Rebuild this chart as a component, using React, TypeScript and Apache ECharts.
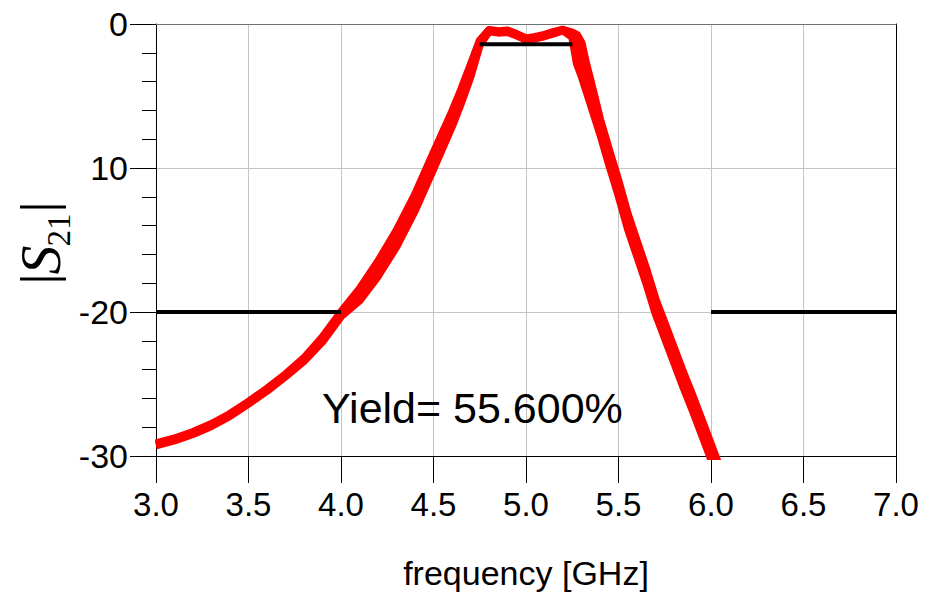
import React, { useEffect, useRef } from "react";
import * as echarts from "echarts";

// Frequency points (GHz) of the Monte-Carlo |S21| traces
const freqs = [3.0, 3.1, 3.2, 3.3, 3.4, 3.5, 3.6, 3.7, 3.8, 3.9, 4.0, 4.1, 4.2, 4.3, 4.4, 4.5, 4.6, 4.65, 4.7, 4.75, 4.8, 4.85, 4.9, 4.95, 5.0, 5.05, 5.1, 5.15, 5.2, 5.25, 5.275, 5.3, 5.325, 5.35, 5.4, 5.45, 5.5, 5.55, 5.6, 5.65, 5.7, 5.75, 5.8, 5.85, 5.9, 5.95, 6.0, 6.05];

// Three traces forming the red band (dB)
const traceLow = [-29.27, -28.92, -28.47, -27.92, -27.22, -26.37, -25.47, -24.47, -23.4, -22.05, -20.3, -19.2, -17.5, -15.45, -12.95, -10.05, -7.1, -5.45, -3.65, -1.45, -0.5, -0.6, -0.55, -0.8, -1.08, -1.0, -0.85, -0.65, -0.45, -0.9, -2.75, -3.6, -4.6, -5.6, -7.6, -9.8, -11.9, -14.2, -16.1, -18.0, -20.1, -21.8, -23.5, -25.2, -26.8, -28.5, -30.2, -31.9];
const traceMid = [-29.2, -28.85, -28.4, -27.85, -27.15, -26.3, -25.4, -24.4, -23.3, -21.9, -20.15, -18.8, -17.0, -14.9, -12.4, -9.5, -6.6, -5.0, -3.25, -1.3, -0.45, -0.55, -0.5, -0.75, -1.04, -0.95, -0.8, -0.6, -0.42, -0.7, -1.6, -2.7, -3.7, -4.8, -7.1, -9.3, -11.4, -13.7, -15.6, -17.5, -19.6, -21.3, -23.0, -24.7, -26.3, -28.0, -29.7, -31.4];
const traceHigh = [-29.13, -28.78, -28.33, -27.78, -27.08, -26.23, -25.33, -24.33, -23.2, -21.75, -20.0, -18.4, -16.5, -14.35, -11.85, -8.95, -6.1, -4.55, -2.85, -1.15, -0.42, -0.5, -0.45, -0.7, -1.0, -0.9, -0.75, -0.55, -0.4, -0.6, -0.75, -1.3, -2.75, -4.0, -6.6, -8.8, -10.9, -13.2, -15.1, -17.0, -19.1, -20.8, -22.5, -24.2, -25.8, -27.5, -29.2, -30.9];

// Specification masks: start / end frequency and level (dB)
const specStart = [3.0, 4.75, 6.0];
const specEnd = [4.0, 5.25, 7.0];
const specLevel = [-20, -1.4, -20];

// Axis ticks
const yTickValues = [-30, -20, -10, 0];
const yTickLabels = ["-30", "-20", "10", "0"];

const xAxisTitle = "frequency [GHz]";
const yieldText = "Yield= 55.600%";

const SANS = "'Liberation Sans', Arial, sans-serif";
const SERIF = "'Liberation Serif', 'Times New Roman', serif";

export default function App() {
  const ref = useRef<HTMLDivElement>(null);

  useEffect(() => {
    const chart = echarts.init(ref.current!, null, { renderer: "svg" });

    const traces = [traceLow, traceMid, traceHigh];
    const redSeries = traces.map((vals, k) => ({
      type: "line",
      name: "trace" + k,
      data: freqs.map((f, i) => [f, vals[i]]),
      showSymbol: false,
      symbol: "none",
      clip: true,
      z: 3,
      lineStyle: { color: "#ff0000", width: 8, join: "round", cap: "butt" },
    }));
    const specSeries = specStart.map((s, i) => ({
      type: "line",
      name: "spec" + i,
      data: [
        [s, specLevel[i]],
        [specEnd[i], specLevel[i]],
      ],
      showSymbol: false,
      symbol: "none",
      z: 4,
      lineStyle: { color: "#000", width: 4, cap: "butt" },
    }));

    const option: any = {
      animation: false,
      backgroundColor: "#ffffff",
      grid: { left: 156, top: 24, right: 33, bottom: 139, show: false },
      xAxis: [
        {
          type: "value",
          min: 3,
          max: 7,
          interval: 0.5,
          axisLine: { show: true, onZero: false, lineStyle: { color: "#000", width: 1 } },
          axisTick: { show: true, length: 27, lineStyle: { color: "#000", width: 1 } },
          axisLabel: {
            fontSize: 33,
            fontFamily: SANS,
            color: "#000",
            margin: 32,
            formatter: (v: number) => v.toFixed(1),
          },
          splitLine: { show: true, lineStyle: { color: "#c4c4c4", width: 1 } },
          name: xAxisTitle,
          nameLocation: "middle",
          nameGap: 100,
          nameTextStyle: { fontSize: 34, fontFamily: SANS, color: "#000" },
        },
        {
          type: "value",
          position: "top",
          min: 3,
          max: 7,
          axisLine: { show: true, onZero: false, lineStyle: { color: "#707070", width: 1 } },
          axisTick: { show: false },
          axisLabel: { show: false },
          splitLine: { show: false },
        },
      ],
      yAxis: [
        {
          type: "value",
          min: -30,
          max: 0,
          interval: 10,
          axisLine: { show: true, onZero: false, lineStyle: { color: "#000", width: 1 } },
          axisTick: { show: true, length: 26, lineStyle: { color: "#000", width: 1 } },
          minorTick: { show: true, splitNumber: 5, length: 14, lineStyle: { color: "#000", width: 1 } },
          axisLabel: {
            fontSize: 34,
            fontFamily: SANS,
            color: "#000",
            margin: 28,
            formatter: (v: number) => {
              const i = yTickValues.indexOf(Math.round(v));
              return i >= 0 ? yTickLabels[i] : "";
            },
          },
          splitLine: { show: true, lineStyle: { color: "#c4c4c4", width: 1 } },
        },
        {
          type: "value",
          position: "right",
          min: -30,
          max: 0,
          axisLine: { show: true, onZero: false, lineStyle: { color: "#000", width: 1 } },
          axisTick: { show: false },
          axisLabel: { show: false },
          splitLine: { show: false },
        },
      ],
      graphic: [
        {
          type: "text",
          x: 322,
          y: 408,
          z: 10,
          style: {
            text: yieldText,
            fontSize: 43,
            fontFamily: SANS,
            fill: "#000",
            align: "left",
            verticalAlign: "middle",
          },
        },
        {
          type: "line",
          shape: { x1: 20, y1: 279, x2: 66, y2: 279 },
          style: { stroke: "#000", lineWidth: 3 },
        },
        {
          type: "line",
          shape: { x1: 20, y1: 207, x2: 66, y2: 207 },
          style: { stroke: "#000", lineWidth: 3 },
        },
        {
          type: "text",
          x: 40.5,
          y: 260,
          rotation: Math.PI / 2,
          style: {
            text: "S",
            fontSize: 58,
            fontStyle: "italic",
            fontFamily: SERIF,
            fill: "#000",
            align: "center",
            verticalAlign: "middle",
          },
        },
        {
          type: "text",
          x: 58.5,
          y: 230,
          rotation: Math.PI / 2,
          style: {
            text: "21",
            fontSize: 33,
            fontFamily: SERIF,
            fill: "#000",
            align: "center",
            verticalAlign: "middle",
          },
        },
      ],
      series: [...redSeries, ...specSeries],
    };

    chart.setOption(option);
    return () => chart.dispose();
  }, []);

  return (
    <div
      ref={ref}
      style={{ position: "fixed", left: 0, top: 0, width: 929, height: 595, background: "#fff" }}
    />
  );
}
